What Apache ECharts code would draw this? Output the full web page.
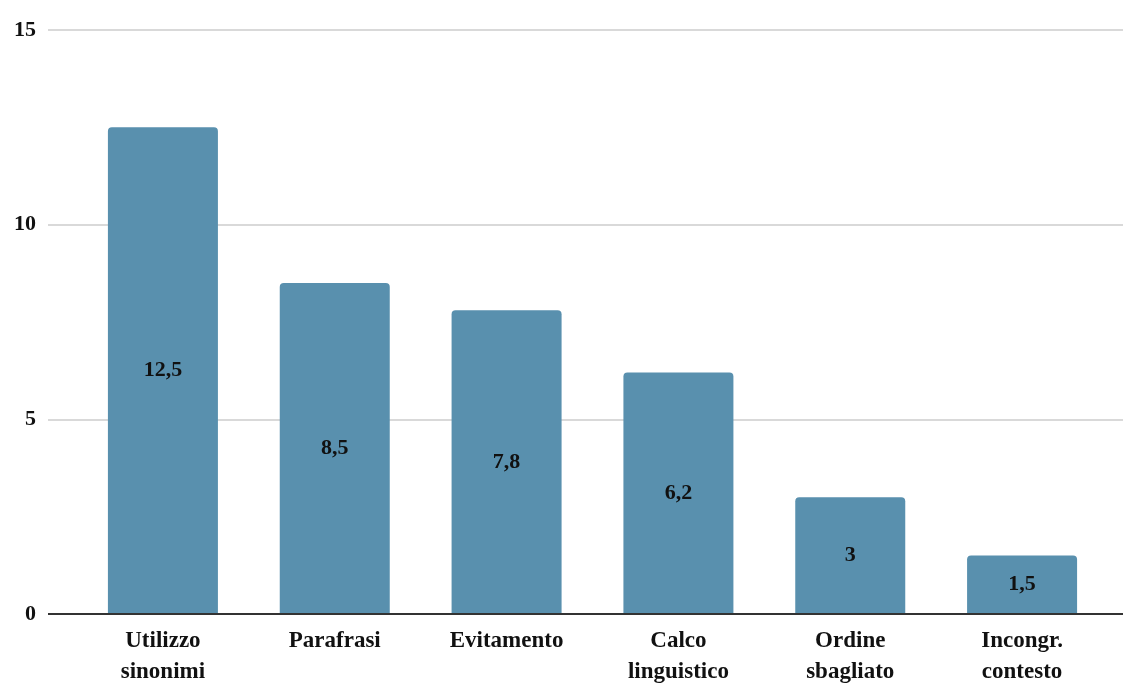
<!DOCTYPE html>
<html>
<head>
<meta charset="utf-8">
<style>
  html, body { margin: 0; padding: 0; background: #fff; }
  #chart { width: 1123px; height: 684px; }
</style>
<script src="https://cdn.jsdelivr.net/npm/echarts@6/dist/echarts.min.js"></script>
</head>
<body>
<div id="chart"></div>
<script>
// Strategie di traduzione e frequenza media
const categories = ['Utilizzo\nsinonimi', 'Parafrasi', 'Evitamento', 'Calco\nlinguistico', 'Ordine\nsbagliato', 'Incongr.\ncontesto'];
const values = [12.5, 8.5, 7.8, 6.2, 3, 1.5];
const yTicks = { min: 0, max: 15, interval: 5 };

const FONT = '"Liberation Serif", "DejaVu Serif", serif';
const BAR = '#5990AE';

const chart = echarts.init(document.getElementById('chart'));
chart.setOption({
  animation: false,
  grid: [
    // full-width frame: value axis, gridlines and baseline
    { left: 48, right: 0, top: 30, bottom: 70, containLabel: false, outerBoundsMode: 'none' },
    // inner frame holding the bars
    { left: 77, right: 15, top: 30, bottom: 70, containLabel: false, outerBoundsMode: 'none' }
  ],
  xAxis: [
    { gridIndex: 0, type: 'value', min: 0, max: 1, show: false },
    {
      gridIndex: 1, type: 'category', data: categories,
      axisLine: { show: false }, axisTick: { show: false },
      axisLabel: {
        interval: 0, margin: 12, color: '#111', fontFamily: FONT,
        fontWeight: 'bold', fontSize: 23, lineHeight: 31
      }
    }
  ],
  yAxis: [
    {
      gridIndex: 0, type: 'value', min: yTicks.min, max: yTicks.max, interval: yTicks.interval,
      axisLine: { show: false }, axisTick: { show: false },
      axisLabel: { margin: 12, color: '#111', fontFamily: FONT, fontWeight: 'bold', fontSize: 22 },
      splitLine: { lineStyle: { color: '#cccccc', width: 1.5 } }
    },
    {
      gridIndex: 1, type: 'value', min: yTicks.min, max: yTicks.max, interval: yTicks.interval,
      show: false, splitLine: { show: false }
    }
  ],
  series: [
    {
      // baseline across the full width
      type: 'line', xAxisIndex: 0, yAxisIndex: 0,
      data: [[0, 0], [1, 0]], symbol: 'none', silent: true,
      lineStyle: { color: '#333', width: 2 }, z: 5
    },
    {
      type: 'bar', xAxisIndex: 1, yAxisIndex: 1,
      data: values, barWidth: 110,
      itemStyle: { color: BAR, borderRadius: [4, 4, 0, 0] },
      label: {
        show: true, position: 'inside', color: '#111',
        fontFamily: FONT, fontWeight: 'bold', fontSize: 22,
        formatter: p => String(p.value).replace('.', ',')
      },
      z: 3
    }
  ]
});
</script>
</body>
</html>
